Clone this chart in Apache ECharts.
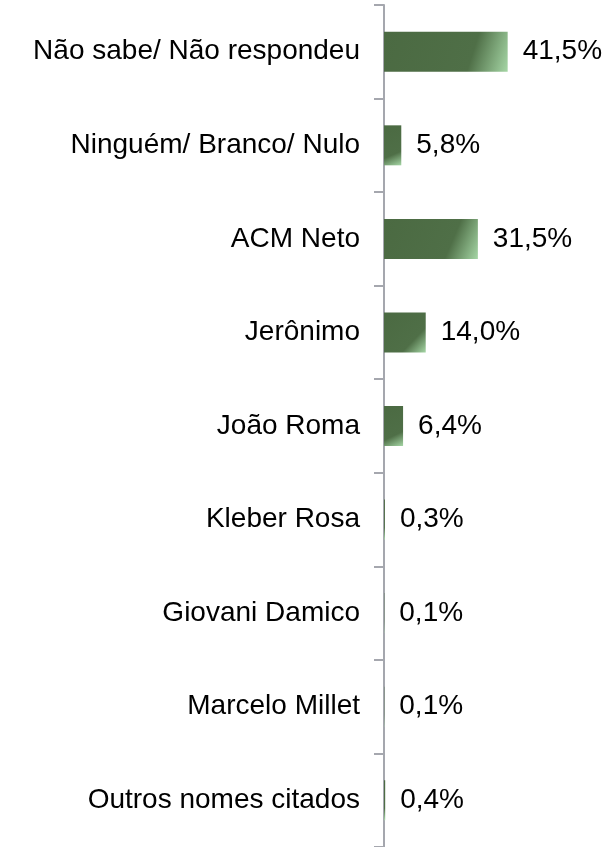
<!DOCTYPE html>
<html>
	<head>
		<meta charset="utf-8">
		<title>Intenção de voto</title>
	</head>
	<body style="margin:0;background:#fff;">
		<div id="main" style="width: 609px;height:847px;"></div>
	</body>
	<script src="https://cdn.jsdelivr.net/npm/echarts@6/dist/echarts.min.js"></script>
	<script type="text/javascript">
		'use strict'

		// categorias, de cima para baixo
		var categorias = ['Não sabe/ Não respondeu', 'Ninguém/ Branco/ Nulo', 'ACM Neto', 'Jerônimo',
			'João Roma', 'Kleber Rosa', 'Giovani Damico', 'Marcelo Millet', 'Outros nomes citados'];
		var valores = [41.5, 5.8, 31.5, 14.0, 6.4, 0.3, 0.1, 0.1, 0.4];

		var fonte = '"Liberation Sans", Arial, sans-serif';

		var myChart = echarts.init(document.getElementById('main'));
		var option = {
			animation: false,
			grid: {
				left: 384,
				top: 5,
				width: 149,
				height: 843
			},
			xAxis: {
				type: 'value',
				min: 0,
				max: 50,
				show: false
			},
			yAxis: {
				type: 'category',
				inverse: true,
				data: categorias,
				axisLine: {
					show: true,
					lineStyle: { color: '#a5a7ae', width: 2 }
				},
				axisTick: {
					show: true,
					inside: false,
					length: 10,
					lineStyle: { color: '#a5a7ae', width: 2 }
				},
				axisLabel: {
					margin: 24,
					color: '#000',
					fontSize: 28,
					fontFamily: fonte
				}
			},
			series: [{
				type: 'bar',
				data: valores,
				barWidth: 40,
				itemStyle: {
					color: new echarts.graphic.LinearGradient(0, 0, 1, 1, [
						{ offset: 0, color: '#4b6a42' },
						{ offset: 0.7, color: '#4f6f47' },
						{ offset: 1, color: '#a5d6a5' }
					])
				},
				label: {
					show: true,
					position: 'right',
					distance: 15,
					color: '#000',
					fontSize: 28,
					fontFamily: fonte,
					formatter: function (p) {
						return p.value.toFixed(1).replace('.', ',') + '%';
					}
				}
			}]
		};
		myChart.setOption(option);
	</script>
</html>
